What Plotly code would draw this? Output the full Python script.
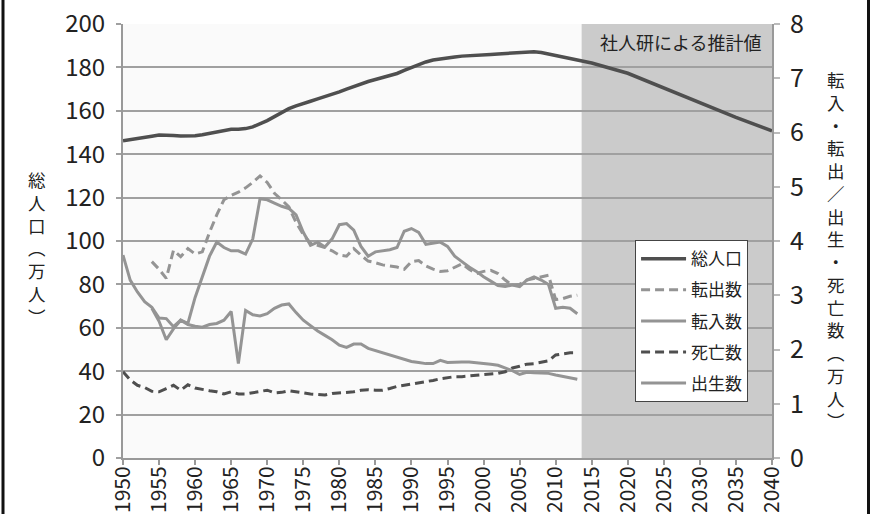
import plotly.graph_objects as go

# ---------------- data ----------------
years_actual = list(range(1950, 2014))
proj_years = [2015, 2020, 2025, 2030, 2035, 2040]

# 総人口 (万人) 1950-2013
total_actual = [146.2, 146.8, 147.3, 147.8, 148.3, 148.8, 148.9, 148.6, 148.4, 148.3,
                148.5, 149.0, 149.6, 150.4, 151.2, 151.5, 151.5, 151.8, 152.6, 154.0,
                155.5, 157.3, 159.2, 161.0, 162.3, 163.2, 164.4, 165.5, 166.5, 167.5,
                168.7, 170.0, 171.3, 172.5, 173.5, 174.4, 175.3, 176.3, 177.2, 178.6,
                180.0, 181.3, 182.5, 183.4, 184.0, 184.4, 184.8, 185.2, 185.5, 185.7,
                185.8, 186.0, 186.2, 186.4, 186.6, 186.8, 187.1, 187.2, 186.9, 186.2,
                185.5, 184.6, 183.8, 183.2]
# 社人研による推計値
total_proj = [182.0, 177.3, 170.6, 163.5, 157.0, 150.7]

move_years = list(range(1954, 2014))
# 転出数 (万人) 1954-2013
out_moves = [3.62, 3.48, 3.31, 3.83, 3.71, 3.86,
             3.76, 3.80, 4.16, 4.48, 4.76, 4.84, 4.90, 4.98, 5.08, 5.20,
             5.08, 4.88, 4.76, 4.63, 4.34, 4.12, 3.96, 3.92, 3.88, 3.82,
             3.74, 3.72, 3.86, 3.74, 3.63, 3.60, 3.56, 3.54, 3.52, 3.48,
             3.62, 3.64, 3.54, 3.48, 3.44, 3.45, 3.52, 3.58, 3.48, 3.40,
             3.44, 3.46, 3.40, 3.28, 3.18, 3.20, 3.28, 3.31, 3.34, 3.37,
             2.92, 2.94, 2.98, 3.00]
# 転入数 (万人) 1954-2013
in_moves = [2.76, 2.52, 2.18, 2.38, 2.54, 2.48,
            2.96, 3.36, 3.72, 3.98, 3.88, 3.82, 3.82, 3.76, 4.04, 4.78,
            4.76, 4.70, 4.64, 4.60, 4.48, 4.16, 3.92, 3.98, 3.89, 4.04,
            4.30, 4.32, 4.20, 3.90, 3.72, 3.80, 3.82, 3.84, 3.88, 4.18,
            4.23, 4.16, 3.94, 3.96, 3.98, 3.90, 3.72, 3.62, 3.52, 3.44,
            3.34, 3.26, 3.18, 3.16, 3.19, 3.16, 3.28, 3.34, 3.28, 3.20,
            2.76, 2.78, 2.76, 2.66]
# 出生数 (万人) 1950-2013
births = [3.74, 3.28, 3.06, 2.88, 2.78, 2.58, 2.57, 2.42, 2.54, 2.46,
          2.43, 2.41, 2.46, 2.48, 2.54, 2.70, 1.74, 2.72, 2.64, 2.62,
          2.66, 2.76, 2.82, 2.84, 2.68, 2.54, 2.44, 2.34, 2.26, 2.18,
          2.08, 2.04, 2.10, 2.10, 2.02, 1.98, 1.94, 1.90, 1.86, 1.81,
          1.78, 1.76, 1.74, 1.74, 1.80, 1.76, 1.77, 1.77, 1.77, 1.76,
          1.75, 1.73, 1.71, 1.66, 1.61, 1.54, 1.58, 1.57, 1.56, 1.56,
          1.53, 1.50, 1.47, 1.45]
# 死亡数 (万人) 1950-2013
deaths = [1.59, 1.44, 1.34, 1.30, 1.23, 1.22, 1.28, 1.34, 1.25, 1.35,
          1.29, 1.26, 1.24, 1.22, 1.18, 1.22, 1.18, 1.18, 1.20, 1.22,
          1.25, 1.20, 1.21, 1.24, 1.22, 1.19, 1.18, 1.17, 1.16, 1.19,
          1.20, 1.22, 1.22, 1.25, 1.26, 1.25, 1.25, 1.28, 1.32, 1.34,
          1.36, 1.38, 1.40, 1.43, 1.46, 1.48, 1.50, 1.50, 1.51, 1.52,
          1.53, 1.54, 1.56, 1.59, 1.66, 1.69, 1.73, 1.74, 1.76, 1.79,
          1.90, 1.92, 1.94, 1.94]

x_ticks = list(range(1950, 2041, 5))
left_ticks = list(range(0, 201, 20))
right_ticks = list(range(0, 9))
proj_start = 2013.6

left_title = "総人口︵万人︶"
right_title = "転入・転出／出生・死亡数︵万人︶"

# ---------------- figure ----------------
FONT = "Noto Sans CJK JP"
DARK = "#4f4f4f"
LIGHT = "#949494"

fig = go.Figure()
fig.add_trace(go.Scatter(x=years_actual + proj_years, y=total_actual + total_proj,
                         name="総人口", mode="lines", legendgroup="a",
                         line=dict(color=DARK, width=3.5)))
fig.add_trace(go.Scatter(x=move_years, y=out_moves, name="転出数", mode="lines",
                         yaxis="y2", legendgroup="b",
                         line=dict(color=LIGHT, width=3, dash="9px,5px")))
fig.add_trace(go.Scatter(x=move_years, y=in_moves, name="転入数", mode="lines",
                         yaxis="y2", legendgroup="c",
                         line=dict(color=LIGHT, width=3)))
fig.add_trace(go.Scatter(x=years_actual, y=deaths, name="死亡数", mode="lines",
                         yaxis="y2", legendgroup="d",
                         line=dict(color=DARK, width=3, dash="9px,5px")))
fig.add_trace(go.Scatter(x=years_actual, y=births, name="出生数", mode="lines",
                         yaxis="y2", legendgroup="e",
                         line=dict(color=LIGHT, width=3)))

# plot-area background and projection shading (under the grid)
fig.add_shape(type="rect", xref="paper", yref="paper", x0=0, x1=1,
              y0=0, y1=1, fillcolor="#fafafa", line=dict(width=0), layer="below")
fig.add_shape(type="rect", xref="x", yref="paper", x0=proj_start, x1=2040,
              y0=0, y1=1, fillcolor="#cbcbcb", line=dict(width=0), layer="below")

# outer frame lines (page border)
for px in [3, 868.5]:
    xp = (px - 123) / 649
    fig.add_shape(type="line", xref="paper", yref="paper", x0=xp, x1=xp,
                  y0=-0.2, y1=1.2, line=dict(color="#111", width=3))

fig.add_annotation(text="社人研による推計値", xref="paper", yref="paper",
                   x=0.986, y=0.958, xanchor="right", yanchor="middle",
                   showarrow=False, font=dict(family=FONT, size=18, color="#222"))


# vertical (tategaki) axis titles: one character per line
def vtitle(text, xpx, ycenter, size):
    fig.add_annotation(text="<br>".join(text), xref="paper", yref="paper",
                       x=(xpx - 123) / 649, y=(458 - ycenter) / 434,
                       xanchor="center", yanchor="middle", align="center",
                       showarrow=False, borderpad=0,
                       font=dict(family=FONT, size=size, color="#222"))


vtitle(left_title, 37, 248, 17.5)
vtitle(right_title, 836, 250, 17.5)

fig.update_layout(
    template="none",
    width=874, height=514,
    margin=dict(l=123, r=102, t=24, b=56),
    paper_bgcolor="white",
    plot_bgcolor="rgba(0,0,0,0)",
    font=dict(family=FONT, color="#222"),
    showlegend=True,
    legend=dict(x=0.789, y=0.502, xanchor="left", yanchor="top",
                bgcolor="white", bordercolor="#444", borderwidth=1,
                font=dict(family=FONT, size=17, color="#222"),
                tracegroupgap=6, traceorder="grouped", itemwidth=45),
    xaxis=dict(range=[1950, 2040], tickvals=x_ticks, tickangle=-90,
               showgrid=False, zeroline=False, showline=True,
               linecolor="#999", linewidth=2, ticks="outside", ticklen=5,
               tickcolor="#999", tickwidth=1.5, automargin=False,
               ticklabelstandoff=-7,
               tickfont=dict(family=FONT, size=21, color="#222")),
    yaxis=dict(range=[0, 200], tickvals=left_ticks, showgrid=True,
               gridcolor="#a0a0a0", gridwidth=2, zeroline=False,
               showline=True, linecolor="#999", linewidth=2,
               ticks="outside", ticklen=5, tickcolor="#a0a0a0", tickwidth=2,
               automargin=False, ticklabelstandoff=6,
               tickfont=dict(family=FONT, size=24, color="#222")),
    yaxis2=dict(range=[0, 8], tickvals=right_ticks, overlaying="y", side="right",
                showgrid=False, zeroline=False, showline=True,
                linecolor="#999", linewidth=2, ticks="outside", ticklen=6,
                tickcolor="#bbb", tickwidth=1.5, automargin=False,
                ticklabelstandoff=5,
                tickfont=dict(family=FONT, size=25, color="#222")),
)

fig.write_html("out.html", config={"displayModeBar": False},
               post_script="document.body.style.margin='0';")
